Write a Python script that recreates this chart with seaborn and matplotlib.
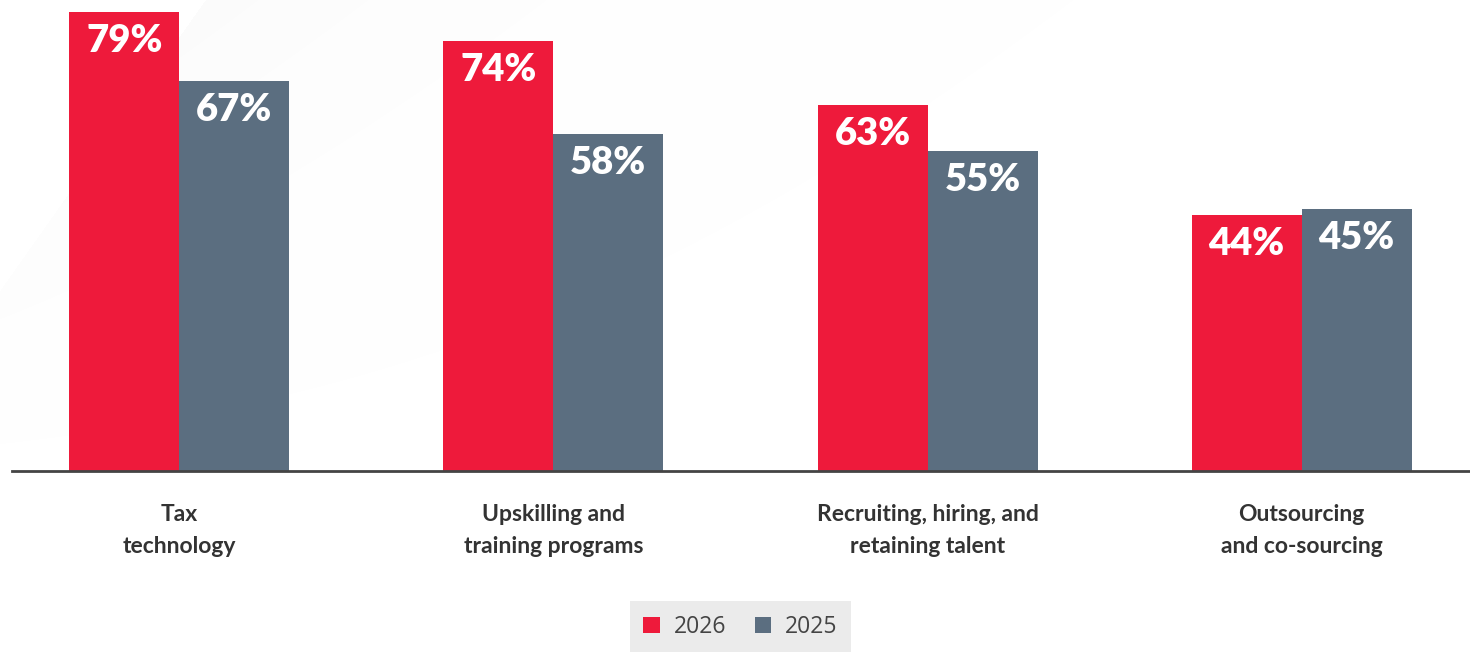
import numpy as np
import pandas as pd
import matplotlib
matplotlib.use("Agg")
import matplotlib.pyplot as plt
from matplotlib.patches import Patch
import seaborn as sns

categories = [
    "Tax\ntechnology",
    "Upskilling and\ntraining programs",
    "Recruiting, hiring, and\nretaining talent",
    "Outsourcing\nand co-sourcing",
]
years = ["2026", "2025"]
values_2026 = [79, 74, 63, 44]
values_2025 = [67, 58, 55, 45]

RED = "#EE1A3B"
SLATE = "#5B6E80"
palette = {"2026": RED, "2025": SLATE}

df = pd.DataFrame({
    "category": categories * 2,
    "year": ["2026"] * 4 + ["2025"] * 4,
    "value": values_2026 + values_2025,
})

sns.set_theme(style="white")
plt.rcParams["font.family"] = ["Lato", "DejaVu Sans"]

W, H = 1470, 652
fig = plt.figure(figsize=(W / 100, H / 100), dpi=100)

# soft diagonal backdrop in the upper-left corner
bg = fig.add_axes([0, 0, 1, 1], zorder=0)
bg.set_xlim(0, W)
bg.set_ylim(H, 0)
bg.axis("off")
yy, xx = np.mgrid[0:H, 0:W]
# signed distance to the right of the edge running from (0,290) to (205,0)
nx, ny = 290.0, 205.0
norm = np.hypot(nx, ny)
d = (xx * nx + (yy - 290) * ny) / norm
shade = np.where(d > 0, 0.075 * np.exp(-d / 240.0), 0.0)
shade *= np.clip(1.0 - yy / 480.0, 0, 1)
rgba = np.ones((H, W, 4))
rgba[..., :3] = 0.80
rgba[..., 3] = shade
bg.imshow(rgba, extent=(0, W, H, 0), interpolation="bilinear", aspect="auto")

ax = fig.add_axes([12 / W, (H - 471) / H, 1 - 12 / W, 471 / H], zorder=1)
ax.patch.set_alpha(0)

sns.barplot(
    data=df, x="category", y="value", hue="year",
    hue_order=years, order=categories, palette=palette,
    width=0.588, gap=0, saturation=1, legend=False, ax=ax,
    linewidth=0, errorbar=None,
)

ax.set_xlim(-0.447, 3.45)
ax.set_ylim(0, 81.0)
ax.set_xlabel("")
ax.set_ylabel("")
ax.set_yticks([])
for s in ["top", "right", "left"]:
    ax.spines[s].set_visible(False)
ax.spines["bottom"].set_color("#444444")
ax.spines["bottom"].set_linewidth(2)

ax.tick_params(axis="x", length=0, pad=24)
for lbl in ax.get_xticklabels():
    lbl.set_fontsize(16.5)
    lbl.set_fontweight("bold")
    lbl.set_color("#333333")
    lbl.set_linespacing(1.65)

# value labels inside the top of each bar
for container in ax.containers:
    for bar in container:
        h = bar.get_height()
        ax.annotate(
            f"{h:.0f}%",
            xy=(bar.get_x() + bar.get_width() / 2, h),
            xytext=(0, -29), textcoords="offset pixels",
            ha="center", va="center", color="white",
            fontsize=27.5, fontweight="heavy",
        )

handles = [Patch(facecolor=palette[y], edgecolor="none", label=y) for y in years]
leg = fig.legend(
    handles=handles, loc="lower center", bbox_to_anchor=(740.5 / W, 0.0),
    ncol=2, frameon=True, fancybox=False, borderpad=0.58,
    handlelength=0.72, handleheight=0.72, handletextpad=0.6,
    columnspacing=1.25, prop={"family": "Open Sans", "size": 16.5},
    borderaxespad=0,
)
leg.get_frame().set_facecolor("#E6E6E6")
leg.get_frame().set_edgecolor("none")
for t in leg.get_texts():
    t.set_color("#444444")

fig.savefig("out.png", dpi=100)
